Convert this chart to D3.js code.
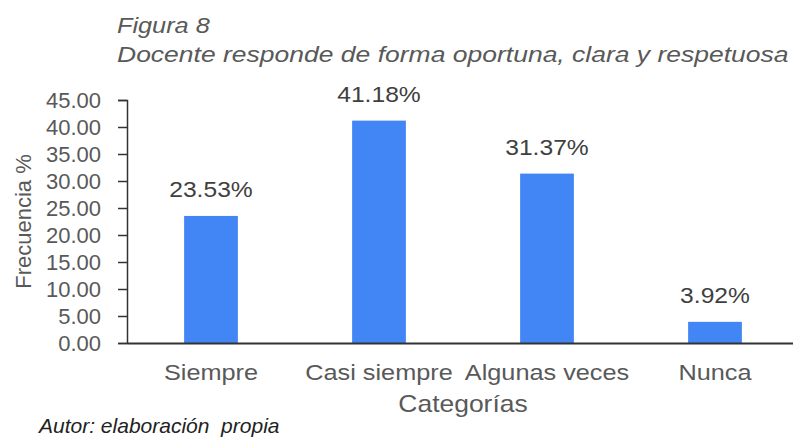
<!DOCTYPE html>
<html>
<head>
<meta charset="utf-8">
<script src="https://cdn.jsdelivr.net/npm/d3@7"></script>
<style>
  body { margin: 0; background: #fff; }
  text { font-family: "Liberation Sans", Arial, sans-serif; }
</style>
</head>
<body>
<div id="chart"></div>
<script>
var width = 793, height = 440;
var margin = {top: 100, right: -6, bottom: 97, left: 127};

// data
var categories = ['Siempre', 'Casi siempre', 'Algunas veces', 'Nunca'];
var values = [23.53, 41.18, 31.37, 3.92];
var yTicks = [0, 5, 10, 15, 20, 25, 30, 35, 40, 45];

// some texts in the source picture are a bit wider than plain Arial
function stretch(sel, k) {
  sel.each(function() {
    var t = d3.select(this);
    var tx = +t.attr('x') || 0, ty = +t.attr('y') || 0;
    t.attr('x', 0).attr('y', 0)
      .attr('transform', 'translate(' + tx + ',' + ty + ') scale(' + k + ',1)');
  });
}

var svg = d3.select('#chart').append('svg')
  .attr('width', width)
  .attr('height', height);

// scales
var x = d3.scaleBand()
  .domain(categories)
  .range([margin.left, width - margin.right])
  .paddingInner(0.68)
  .paddingOuter(0.34);

var y = d3.scaleLinear()
  .domain([0, 45])
  .range([height - margin.bottom, margin.top]);

// title
svg.append('text')
  .attr('x', 117).attr('y', 33)
  .attr('font-size', 22).attr('font-style', 'italic')
  .attr('fill', '#595959')
  .text('Figura 8')
  .call(stretch, 1.15);
svg.append('text')
  .attr('x', 117).attr('y', 62)
  .attr('font-size', 22).attr('font-style', 'italic')
  .attr('fill', '#595959')
  .text('Docente responde de forma oportuna, clara y respetuosa')
  .call(stretch, 1.205);

// bars
svg.selectAll('.bar')
  .data(values)
  .enter().append('rect')
  .attr('class', 'bar')
  .attr('x', function(d, i) { return x(categories[i]); })
  .attr('y', function(d) { return y(d); })
  .attr('width', x.bandwidth())
  .attr('height', function(d) { return y(0) - y(d); })
  .attr('fill', '#4285f4');

// value labels
svg.selectAll('.lbl')
  .data(values)
  .enter().append('text')
  .attr('class', 'lbl')
  .attr('x', function(d, i) { return x(categories[i]) + x.bandwidth() / 2; })
  .attr('y', function(d) { return y(d) - 19; })
  .attr('text-anchor', 'middle')
  .attr('font-size', 22)
  .attr('fill', '#404040')
  .text(function(d) { return d.toFixed(2) + '%'; })
  .call(stretch, 1.12);

// y axis
var yAxis = svg.append('g')
  .attr('transform', 'translate(' + margin.left + ',0)')
  .call(d3.axisLeft(y).tickValues(yTicks).tickSize(9).tickPadding(17)
    .tickFormat(function(d) { return d3.format('.2f')(d); }));
yAxis.select('.domain').attr('stroke', '#333').attr('stroke-width', 1.5);
yAxis.selectAll('.tick line').attr('stroke', '#333').attr('stroke-width', 1.5);
yAxis.selectAll('.tick text')
  .attr('font-size', 22).attr('fill', '#595959')
  .attr('font-family', '"Liberation Sans", Arial, sans-serif');

// x axis
var xAxis = svg.append('g')
  .attr('transform', 'translate(0,' + y(0) + ')')
  .call(d3.axisBottom(x).tickSize(0).tickPadding(21));
xAxis.select('.domain').attr('stroke', '#333').attr('stroke-width', 2);
xAxis.selectAll('.tick text')
  .attr('font-size', 22).attr('fill', '#595959')
  .attr('font-family', '"Liberation Sans", Arial, sans-serif')
  .call(stretch, 1.15);

// axis titles
svg.append('text')
  .attr('x', (margin.left + width - margin.right) / 2)
  .attr('y', 412)
  .attr('text-anchor', 'middle')
  .attr('font-size', 23)
  .attr('fill', '#595959')
  .text('Categorías')
  .call(stretch, 1.15);

svg.append('text')
  .attr('transform', 'translate(31,' + (y(0) + y(45)) / 2 + ') rotate(-90)')
  .attr('text-anchor', 'middle')
  .attr('font-size', 22)
  .attr('fill', '#595959')
  .text('Frecuencia %');

// source note
svg.append('text')
  .attr('x', 39).attr('y', 433)
  .attr('font-size', 21).attr('font-style', 'italic')
  .attr('fill', '#222')
  .style('white-space', 'pre')
  .text('Autor: elaboración  propia');
</script>
</body>
</html>
